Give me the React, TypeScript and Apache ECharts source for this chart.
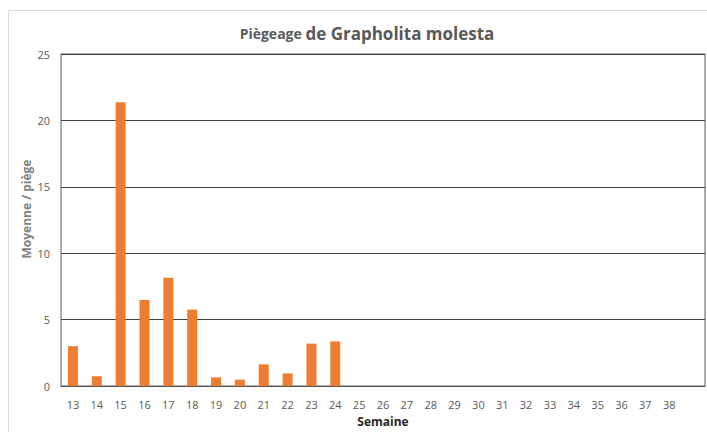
import React, { useEffect, useRef } from "react";
import * as echarts from "echarts";

const weeks = ["13","14","15","16","17","18","19","20","21","22","23","24","25","26","27","28","29","30","31","32","33","34","35","36","37","38",""];
const values: (number | null)[] = [3.0, 0.73, 21.36, 6.48, 8.16, 5.75, 0.65, 0.48, 1.63, 0.95, 3.19, 3.36, null, null, null, null, null, null, null, null, null, null, null, null, null, null, null];
const yTicks = { min: 0, max: 25, interval: 5 };

export default function App() {
  const ref = useRef<HTMLDivElement>(null);
  useEffect(() => {
    if (!ref.current) return;
    const chart = echarts.init(ref.current, null, { renderer: "svg" });
    const font = "'Open Sans', 'Liberation Sans', sans-serif";
    chart.setOption({
      animation: false,
      backgroundColor: "#ffffff",
      textStyle: { fontFamily: font },
      title: {
        text: "{a|Piègeage }{b|de Grapholita molesta}",
        left: 362,
        textAlign: "center",
        top: 20,
        textStyle: {
          rich: {
            a: { fontSize: 14, fontWeight: "bold", color: "#595959", fontFamily: font },
            b: { fontSize: 17, fontWeight: "bold", color: "#595959", fontFamily: font },
          },
        },
      },
      graphic: [
        {
          type: "rect",
          shape: { x: 8.5, y: 10.5, width: 720, height: 440 },
          style: { fill: "none", stroke: "#d9d9d9", lineWidth: 1 },
          silent: true,
        },
      ],
      grid: {
        left: 61, right: 2, top: 54, bottom: 46,
        show: true, borderColor: "#595959", borderWidth: 1,
        containLabel: false,
        outerBoundsMode: "none",
      },
      xAxis: {
        type: "category",
        data: weeks,
        name: "Semaine",
        nameLocation: "middle",
        nameGap: 29,
        nameMoveOverlap: false,
        nameTextStyle: { fontSize: 12, fontWeight: "bold", color: "#262626", fontFamily: font },
        axisLine: { show: true, lineStyle: { color: "#595959" } },
        axisTick: { show: false },
        axisLabel: { color: "#595959", fontSize: 11, margin: 13, interval: 0, fontFamily: font },
      },
      yAxis: {
        type: "value",
        min: yTicks.min,
        max: yTicks.max,
        interval: yTicks.interval,
        name: "Moyenne / piège",
        nameLocation: "middle",
        nameGap: 29,
        nameMoveOverlap: false,
        nameTextStyle: { fontSize: 12, fontWeight: "bold", color: "#7f7f7f", fontFamily: font, padding: [0, 0, 0, 22] },
        axisLine: { show: false },
        axisTick: { show: false },
        axisLabel: { color: "#595959", fontSize: 11, margin: 11, fontFamily: font },
        splitLine: { show: true, lineStyle: { color: "#404040", width: 1 } },
      },
      series: [
        {
          type: "bar",
          data: values,
          barWidth: 10,
          itemStyle: { color: "#ED7D31" },
        },
      ],
    });
    return () => chart.dispose();
  }, []);
  return (
    <div
      ref={ref}
      style={{ position: "absolute", left: 0, top: 0, width: 707, height: 432 }}
    />
  );
}
